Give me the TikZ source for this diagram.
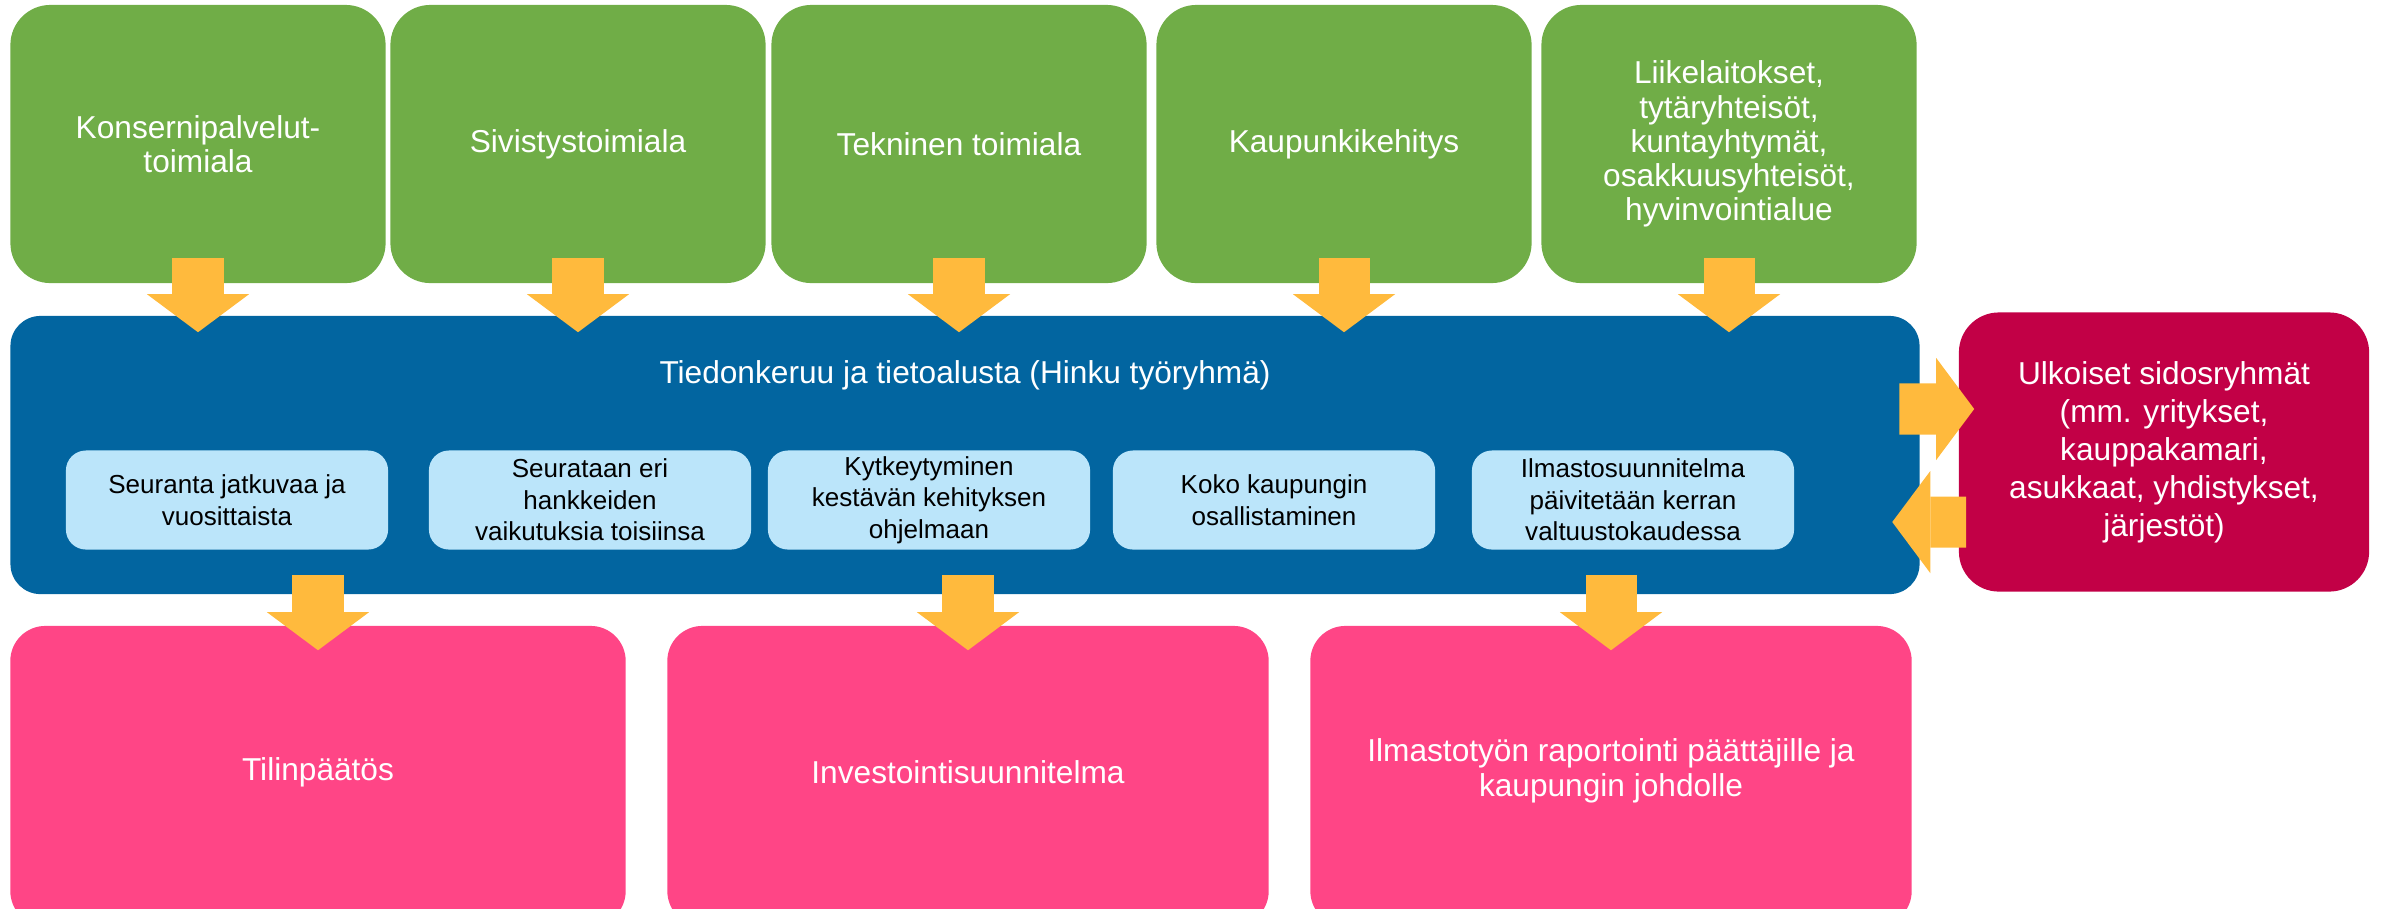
\documentclass[tikz,border=0pt]{standalone}
\usepackage{fontspec}
\setmainfont{Liberation Sans}
\usetikzlibrary{arrows.meta}

\definecolor{unitgreen}{RGB}{112,173,71}
\definecolor{hubblue}{RGB}{2,101,160}
\definecolor{notelight}{RGB}{187,229,250}
\definecolor{flowgold}{RGB}{255,186,61}
\definecolor{extred}{RGB}{194,0,70}
\definecolor{outpink}{RGB}{255,69,134}

\begin{document}
\begin{tikzpicture}[x=0.01cm, y=-0.01cm,
    unitbox/.style={rectangle, rounded corners=0.4cm, fill=unitgreen, text=white,
        minimum width=3.75cm, minimum height=2.78cm, align=center,
        font=\fontsize{9}{9.7}\selectfont},
    hubbox/.style={rectangle, rounded corners=0.3cm, fill=hubblue,
        minimum width=19.08cm, minimum height=2.78cm},
    notebox/.style={rectangle, rounded corners=0.2cm, fill=notelight, text=black,
        minimum width=3.22cm, minimum height=0.99cm, align=center, inner sep=1pt,
        font=\fontsize{7.4}{9}\selectfont},
    extbox/.style={rectangle, rounded corners=0.4cm, fill=extred, text=white,
        minimum width=4.1cm, minimum height=2.79cm, align=center,
        font=\fontsize{9}{10.8}\selectfont},
    outbox/.style={rectangle, rounded corners=0.35cm, fill=outpink, text=white,
        minimum height=3.0cm, align=center,
        font=\fontsize{9}{10}\selectfont},
    flow/.style={draw=flowgold, line width=0.51cm,
        -{Triangle[width=1.02cm, length=0.38cm, line width=0pt]}}]
    \path[use as bounding box, clip] (0,0) rectangle (2382,908);

    % Toimialat
    \node[unitbox] (g1) at (198,144) {Konsernipalvelut-\\toimiala};
    \node[unitbox] (g2) at (578,144) {Sivistystoimiala};
    \node[unitbox] (g3) at (959,144) {Tekninen toimiala};
    \node[unitbox] (g4) at (1344,144) {Kaupunkikehitys};
    \node[unitbox] (g5) at (1729,144) {Liikelaitokset,\\tytäryhteisöt,\\kuntayhtymät,\\osakkuusyhteisöt,\\hyvinvointialue};

    % Tietoalusta
    \node[hubbox] (hub) at (965,455) {};
    \node[text=white, font=\fontsize{9}{10}\selectfont] (hubtitle) at (965,375)
        {Tiedonkeruu ja tietoalusta (Hinku työryhmä)};
    \node[notebox] (n1) at (227,500) {Seuranta jatkuvaa ja\\vuosittaista};
    \node[notebox] (n2) at (590,500) {Seurataan eri\\hankkeiden\\vaikutuksia toisiinsa};
    \node[notebox] (n3) at (929,500) {Kytkeytyminen\\kestävän kehityksen\\ohjelmaan};
    \node[notebox] (n4) at (1274,500) {Koko kaupungin\\osallistaminen};
    \node[notebox] (n5) at (1633,500) {Ilmastosuunnitelma\\päivitetään kerran\\valtuustokaudessa};

    % Sidosryhmät
    \node[extbox] (ext) at (2164,452) {Ulkoiset sidosryhmät\\(mm. yritykset,\\kauppakamari,\\asukkaat, yhdistykset,\\järjestöt)};

    % Tulokset
    \node[outbox, minimum width=6.15cm] (p1) at (318,776) {\\[-0.6em]Tilinpäätös};
    \node[outbox, minimum width=6.01cm] (p2) at (968,776) {\\[-0.6em]Investointisuunnitelma};
    \node[outbox, minimum width=6.01cm] (p3) at (1611,776) {Ilmastotyön raportointi päättäjille ja\\kaupungin johdolle\\[-0.6em]};

    % Nuolet
    \foreach \g in {g1,g2,g3,g4,g5}
        \draw[flow] ([yshift=0.26cm]\g.south) -- ([yshift=-0.17cm]\g.south |- hub.north);
    \foreach \p in {p1,p2,p3}
        \draw[flow] ([yshift=0.2cm]hub.south -| \p.north) -- ([yshift=-0.25cm]\p.north);
    \draw[flow] ([xshift=-0.21cm,yshift=0.46cm]hub.east) -- ([xshift=0.16cm,yshift=0.43cm]ext.west);
    \draw[flow] ([xshift=0.08cm,yshift=-0.70cm]ext.west) -- ([xshift=-0.28cm,yshift=-0.67cm]hub.east);
\end{tikzpicture}
\end{document}
